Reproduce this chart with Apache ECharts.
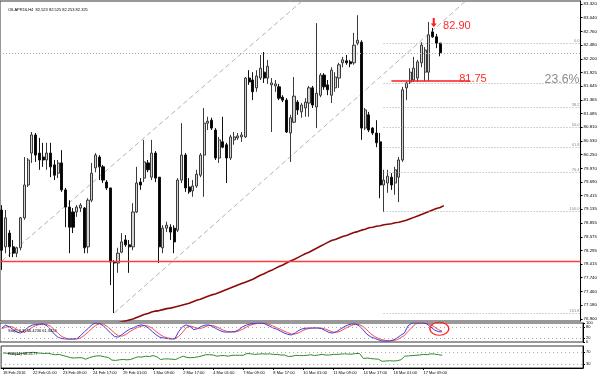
<!DOCTYPE html>
<html><head><meta charset="utf-8">
<script src="https://cdn.jsdelivr.net/npm/echarts@6/dist/echarts.min.js"></script>
<style>html,body{margin:0;padding:0;background:#fff}#c{width:600px;height:376px}</style>
</head><body><div id="c"></div>
<script>
// ---- data ----
const timeLabels = ['18 Feb 2016','22 Feb 01:00','23 Feb 09:00','24 Feb 17:00','29 Feb 01:00','1 Mar 09:00','2 Mar 17:00','4 Mar 01:00','7 Mar 09:00','8 Mar 17:00','10 Mar 01:00','11 Mar 09:00','14 Mar 17:00','16 Mar 01:00','17 Mar 09:00'];
const yTicks = [76.900,77.180,77.460,77.740,78.015,78.295,78.575,78.855,79.135,79.415,79.690,79.970,80.250,80.530,80.810,81.085,81.365,81.645,81.925,82.200,82.480,82.760,83.040,83.320];
const open = [79.12,78.37,78.65,78.37,78.24,78.35,78.96,79.63,80.28,80.65,80.28,80.20,80.14,80.28,80.04,79.87,80.08,79.53,79.18,79.08,79.08,79.16,79.16,78.37,79.32,79.98,80.20,80.00,79.69,79.57,78.06,78.04,78.26,78.51,78.41,78.37,79.08,79.69,79.77,80.08,79.79,80.28,79.79,78.35,78.75,78.77,78.75,78.71,79.73,80.24,79.59,79.51,79.61,79.83,80.24,80.89,80.95,80.75,80.18,80.51,80.45,80.18,80.55,80.59,80.61,80.61,81.81,81.77,81.61,81.81,81.93,81.81,81.67,81.65,81.63,81.42,81.36,80.69,80.91,81.32,81.12,81.20,81.30,81.61,81.22,81.46,81.87,81.67,81.46,81.61,81.81,82.12,82.16,82.14,82.12,82.52,82.54,80.79,81.06,80.79,80.69,80.51,79.63,79.67,79.79,79.67,79.79,80.14,81.61,81.73,81.77,81.81,82.12,81.93,81.93,82.75,82.65,82.523];
const high = [79.22,79.12,78.71,78.51,78.37,78.98,80.20,80.18,80.71,80.69,80.59,80.49,80.49,80.49,80.14,80.14,80.34,79.57,79.32,79.16,79.22,79.26,79.18,79.36,80.08,80.28,80.24,80.04,79.73,79.57,78.10,78.35,78.65,78.61,78.51,79.26,80.00,79.77,80.55,80.14,80.55,80.32,79.79,78.81,78.88,78.83,78.81,79.77,80.89,80.28,79.77,79.73,79.94,80.28,81.20,81.02,81.00,80.79,80.61,81.02,80.49,80.65,80.71,80.69,80.71,81.83,81.97,81.93,81.97,82.28,82.34,82.18,81.81,81.77,81.69,81.46,81.40,81.06,81.83,81.36,81.30,81.40,81.65,81.65,82.93,81.91,81.91,81.77,82.03,81.93,82.12,82.24,82.28,82.18,82.73,83.09,82.58,81.20,81.12,80.81,80.95,80.69,79.94,79.94,79.87,80.00,80.20,81.63,81.73,82.01,82.24,82.18,82.54,82.44,82.95,82.83,82.71,82.525];
const low = [77.90,78.24,78.16,78.16,78.16,78.30,78.92,79.59,80.08,80.10,79.94,80.00,79.94,79.79,79.73,79.77,79.49,78.77,78.24,78.65,78.98,79.08,78.24,78.24,79.28,79.89,79.73,79.67,79.53,77.59,77.02,77.84,78.24,78.37,77.84,78.30,79.06,79.53,79.69,79.89,79.73,79.69,78.04,78.24,78.67,78.51,78.24,78.67,79.67,79.49,79.45,79.39,79.57,79.79,79.39,80.75,80.75,80.14,80.08,80.38,79.67,80.14,80.45,80.55,80.51,80.59,81.67,81.36,81.53,81.77,81.71,81.69,80.71,81.53,81.36,81.32,80.69,80.10,80.89,81.06,81.00,81.02,81.02,81.20,80.79,81.42,81.57,81.46,81.30,81.53,81.61,82.03,82.08,82.03,82.08,82.48,80.55,80.75,80.71,80.65,80.40,79.36,79.08,79.47,79.53,79.43,79.28,80.10,81.36,81.69,81.73,81.73,82.03,81.75,81.75,82.63,82.42,82.253];
const close = [78.30,78.96,78.37,78.24,78.35,78.96,79.63,80.14,80.65,80.24,80.14,80.14,80.28,80.00,79.83,80.08,79.53,79.18,78.77,78.77,79.18,79.22,78.35,79.32,79.87,80.24,80.00,79.73,79.57,78.06,78.04,78.24,78.47,78.41,78.37,79.08,79.67,79.63,80.10,79.94,80.28,79.77,78.37,78.75,78.81,78.67,78.47,79.73,80.24,79.57,79.49,79.61,79.85,80.24,80.89,80.93,80.79,80.18,80.55,80.40,80.18,80.61,80.61,80.63,80.65,81.81,81.73,81.53,81.85,82.01,81.81,82.05,81.71,81.69,81.40,81.36,80.71,81.00,81.44,81.16,81.26,81.32,81.61,81.26,81.50,81.87,81.63,81.57,81.97,81.83,82.08,82.18,82.12,82.10,82.48,82.58,80.79,81.16,80.75,80.69,80.49,79.63,79.73,79.81,79.63,79.94,80.14,81.57,81.71,81.93,82.01,82.14,82.48,82.38,82.69,82.65,82.52,82.325];
const ma = [null,null,null,null,null,null,null,null,null,null,null,null,null,null,null,null,null,null,null,null,null,null,null,null,null,null,null,null,null,null,
 76.80,76.82,76.84,76.86,76.88,76.90,76.93,76.96,76.99,77.01,77.04,77.06,77.07,77.09,77.11,77.12,77.14,77.16,77.18,77.20,77.22,77.25,77.28,77.30,77.33,77.36,77.39,77.41,77.44,77.47,77.50,77.53,77.56,77.59,77.62,77.65,77.68,77.71,77.75,77.79,77.82,77.86,77.89,77.93,77.97,78.00,78.04,78.08,78.11,78.15,78.19,78.23,78.26,78.30,78.34,78.38,78.42,78.46,78.50,78.52,78.55,78.58,78.60,78.63,78.66,78.68,78.71,78.73,78.76,78.77,78.79,78.80,78.82,78.83,78.84,78.86,78.87,78.89,78.91,78.94,78.97,79.00,79.03,79.06,79.09,79.12,79.15,79.17,79.21];
const stochK = [74,88,80,65,52,47,60,78,89,92,94,95,85,65,40,24,18,16,15,16,18,35,55,72,92,100,97,85,65,45,28,26,40,55,68,75,85,90,86,72,55,38,25,21,18,16,17,55,80,90,82,65,70,82,89,90,82,70,60,53,52,53,55,65,80,89,95,98,100,100,95,85,75,68,58,48,40,37,48,62,70,73,74,74,74,70,60,50,47,55,68,80,90,95,95,85,65,42,28,20,12,6,5,5,10,20,35,47,85,100,100,100,100,95,80,63,55,53];
const stochD = [70,78,82,78,66,55,52,62,76,86,92,94,92,82,64,44,28,20,16,15,16,22,36,54,72,88,96,94,82,65,46,33,31,40,54,66,76,83,87,83,72,55,40,28,22,18,17,29,50,75,84,79,72,72,80,87,87,81,71,61,55,53,53,58,67,78,88,94,98,99,98,93,85,76,67,58,49,42,42,49,60,68,72,74,74,73,68,60,52,51,57,68,79,88,93,92,82,64,45,30,20,13,8,5,7,12,22,34,56,77,95,100,100,98,92,79,66,57];
const rsi = [67,66,64,63,63,65,67,68,69,67,66,65,66,63,61,62,58,55,51,50,51,51,46,51,55,57,57,54,52,43,42,44,45,44,45,50,54,53,56,55,58,54,45,47,47,46,45,51,56,52,51,52,54,57,61,61,60,56,58,58,56,59,59,59,59,65,64,62,63,64,63,64,62,62,60,60,55,56,59,58,58,59,61,58,60,62,60,60,62,62,63,64,63,63,65,65,48,50,48,47,46,39,40,41,40,41,44,56,57,58,59,60,62,61,64,63,61,59];
const fibLevels = [
  {name:'0.0', price:82.52},{name:'23.6', price:81.71},{name:'38.2', price:81.22},{name:'50.0', price:80.81},
  {name:'61.8', price:80.40},{name:'76.4', price:79.89},{name:'100.0', price:79.10},{name:'161.8', price:77.02}];
const upperChannel = [[0,78.08],[80,83.37]];
const lowerChannel = [[30,77.02],[124,83.39]];
const bidPrice = 82.325;
const supportLine = 78.07;
const level8175 = 81.75;
const title = 'OILAPR16,H4  82.523 82.525 82.253 82.325';

// ---- layout ----
const SHIFT = 37;
const N = open.length + SHIFT;
const cats = Array.from({length:N}, (_, i) => String(i));
const FONT = 'Liberation Sans, Arial, sans-serif';
const candleData = open.map((o, i) => [o, close[i], low[i], high[i]]);

const chart = echarts.init(document.getElementById('c'), null, {renderer:'canvas'});
const hiddenCat = (gi) => ({type:'category', gridIndex:gi, data:cats, boundaryGap:true, show:false,
  axisLine:{show:false}, axisTick:{show:false}, axisLabel:{show:false}, splitLine:{show:false}});
const hiddenVal = (gi) => ({type:'value', gridIndex:gi, min:-0.5, max:N-0.5, show:false,
  axisLine:{show:false}, axisTick:{show:false}, axisLabel:{show:false}, splitLine:{show:false}});

const fibMarks = fibLevels.map(f => [
  {coord:[101.9, f.price], lineStyle:{color:'#a8a8a8', type:[1,2], width:1},
   label:{show: f.name !== '23.6', position:'insideEndTop', formatter:f.name, fontSize:4, color:'#8a8a8a', fontFamily:FONT, distance:[1,0.5]}},
  {coord:[N-0.5, f.price]}]);

const option = {
  animation:false,
  backgroundColor:'#fff',
  textStyle:{fontFamily:FONT},
  title:[
    {text:title, left:3, top:2.5, textStyle:{fontSize:4, fontWeight:'normal', color:'#000', fontFamily:FONT}},
    {text:'Sto(5,3,3) 56.4236 61.3424', left:3, top:323.5, textStyle:{fontSize:4, fontWeight:'normal', color:'#000', fontFamily:FONT}},
    {text:'RSI(14) 58.4177', left:3, top:347, textStyle:{fontSize:4, fontWeight:'normal', color:'#000', fontFamily:FONT}}
  ],
  grid:[
    {left:0, top:1, width:583, height:320, show:true, borderColor:'#333', borderWidth:1},
    {left:0, top:323, width:583, height:19, show:true, borderColor:'#333', borderWidth:1},
    {left:0, top:346, width:583, height:22, show:true, borderColor:'#333', borderWidth:1}
  ],
  xAxis:[
    hiddenCat(0), hiddenVal(0), hiddenCat(1), hiddenVal(1),
    {type:'category', gridIndex:2, data:cats, boundaryGap:true, position:'bottom',
     axisLine:{show:true, lineStyle:{color:'#000', width:1}},
     axisTick:{show:true, length:2, alignWithLabel:true, interval:(i)=> i % 8 === 0 && i/8 < timeLabels.length, lineStyle:{color:'#000'}},
     axisLabel:{show:true, interval:(i)=> i % 8 === 0 && i/8 < timeLabels.length, formatter:(v, i)=> timeLabels[i/8] || '',
       fontSize:4, color:'#000', margin:2.5, align:'left', fontFamily:FONT}}
  ],
  yAxis:[
    {type:'value', gridIndex:0, position:'right', min:76.858, max:83.380, splitLine:{show:false},
     axisLine:{show:true, onZero:false, lineStyle:{color:'#000'}},
     axisTick:{show:true, length:2, customValues:yTicks, lineStyle:{color:'#000'}},
     axisLabel:{show:true, customValues:yTicks, formatter:(v)=>v.toFixed(3), fontSize:4.4, color:'#000', margin:3, fontFamily:FONT}},
    {type:'value', gridIndex:1, position:'right', min:0, max:100, splitLine:{show:false},
     axisLine:{show:true, onZero:false, lineStyle:{color:'#000'}},
     axisTick:{show:true, length:2, customValues:[0,20,80,100]},
     axisLabel:{show:true, customValues:[0,20,80,100], fontSize:4, color:'#000', margin:3, fontFamily:FONT}},
    {type:'value', gridIndex:2, position:'right', min:16.7, max:90, splitLine:{show:false},
     axisLine:{show:true, onZero:false, lineStyle:{color:'#000'}},
     axisTick:{show:true, length:2, customValues:[30,70]},
     axisLabel:{show:true, customValues:[30,70], fontSize:4, color:'#000', margin:3, fontFamily:FONT}}
  ],
  series:[
    {type:'line', xAxisIndex:1, yAxisIndex:0, data:[[-10,-10]], symbol:'none', silent:true, z:1,
     lineStyle:{width:0},
     markLine:{symbol:['none','none'], silent:true, animation:false,
       data:[
         ...fibMarks,
         [{coord:[-0.5, bidPrice], lineStyle:{color:'#a8a8a8', type:[1,2], width:1}, label:{show:false}}, {coord:[N-0.5, bidPrice]}]
       ]}},
    {type:'line', xAxisIndex:1, yAxisIndex:0, data:upperChannel, symbol:'none', silent:true, z:1,
     lineStyle:{color:'#b4b4b4', width:1, type:[5,3]}},
    {type:'line', xAxisIndex:1, yAxisIndex:0, data:lowerChannel, symbol:'none', silent:true, z:1,
     lineStyle:{color:'#b4b4b4', width:1, type:[5,3]}},
    {type:'candlestick', xAxisIndex:0, yAxisIndex:0, data:candleData, barWidth:2.6, z:3,
     itemStyle:{color:'#d2d2d2', color0:'#000000', borderColor:'#3a3a3a', borderColor0:'#111111', borderWidth:1}},
    {type:'line', xAxisIndex:0, yAxisIndex:0, data:ma, symbol:'none', z:4,
     lineStyle:{color:'#8b0a0a', width:1.6}},
    {type:'line', xAxisIndex:1, yAxisIndex:0, data:[[-10,-10]], symbol:'none', silent:true, z:10,
     lineStyle:{width:0},
     markLine:{symbol:['none','none'], silent:true, animation:false,
       data:[
         [{coord:[-0.5, supportLine], lineStyle:{color:'#ff3c3c', type:'solid', width:1.4}, label:{show:false}}, {coord:[N-0.5, supportLine]}],
         [{coord:[104, level8175], lineStyle:{color:'#ff1a1a', type:'solid', width:1.6}, label:{show:false}}, {coord:[125, level8175]}],
         [{coord:[N-1.2, bidPrice], lineStyle:{width:0, opacity:0},
           label:{show:true, position:'end', formatter:bidPrice.toFixed(3), fontSize:4.4, color:'#fff', backgroundColor:'#000', padding:[1.2,1.5,0.8,1.5], distance:0.5, fontFamily:FONT}},
          {coord:[N-0.5, bidPrice]}]
       ]},
     markPoint:{silent:true, animation:false,
       data:[
         {coord:[117.8, 82.88], symbolSize:0, label:{show:true, position:'right', distance:0, formatter:'82.90', fontSize:11, color:'#ff2a2a', fontFamily:FONT}},
         {coord:[122.1, 81.80], symbolSize:0, label:{show:true, position:'right', distance:0, formatter:'81.75', fontSize:11, color:'#ff2a2a', fontFamily:FONT}},
         {coord:[144.9, 81.77], symbolSize:0, label:{show:true, position:'right', distance:0, formatter:'23.6%', fontSize:12.3, color:'#8c8c8c', fontFamily:FONT}},
         {coord:[115.3, 82.94], symbol:'path://M2,0 L4,0 L4,6 L6,6 L3,10 L0,6 L2,6 Z', symbolSize:[6,9],
          itemStyle:{color:'#ff1a1a'}, label:{show:false}}
       ]}},
    {type:'line', xAxisIndex:2, yAxisIndex:1, data:stochK, symbol:'none', lineStyle:{color:'#3c3cdc', width:1}, z:3,
     markLine:{symbol:['none','none'], silent:true, animation:false, label:{show:false},
       lineStyle:{color:'#a8a8a8', type:[1,3], width:1},
       data:[{yAxis:80},{yAxis:20}]}},
    {type:'line', xAxisIndex:2, yAxisIndex:1, data:stochD, symbol:'none', lineStyle:{color:'#ff4848', width:1}, z:2},
    {type:'line', xAxisIndex:3, yAxisIndex:1, data:[[-10,-10]], symbol:'none', silent:true, lineStyle:{width:0}, z:5,
     markPoint:{silent:true, animation:false, data:[
       {coord:[116.3, 70], symbol:'circle', symbolSize:[19,13], itemStyle:{color:'rgba(0,0,0,0)', borderColor:'#ff2020', borderWidth:1.2}, label:{show:false}}]}},
    {type:'line', xAxisIndex:4, yAxisIndex:2, data:rsi, symbol:'none', lineStyle:{color:'#2e8b2e', width:1}, z:3,
     markLine:{symbol:['none','none'], silent:true, animation:false, label:{show:false},
       lineStyle:{color:'#a8a8a8', type:[1,3], width:1},
       data:[{yAxis:70},{yAxis:30}]}}
  ]
};
chart.setOption(option);
</script>
</body></html>
